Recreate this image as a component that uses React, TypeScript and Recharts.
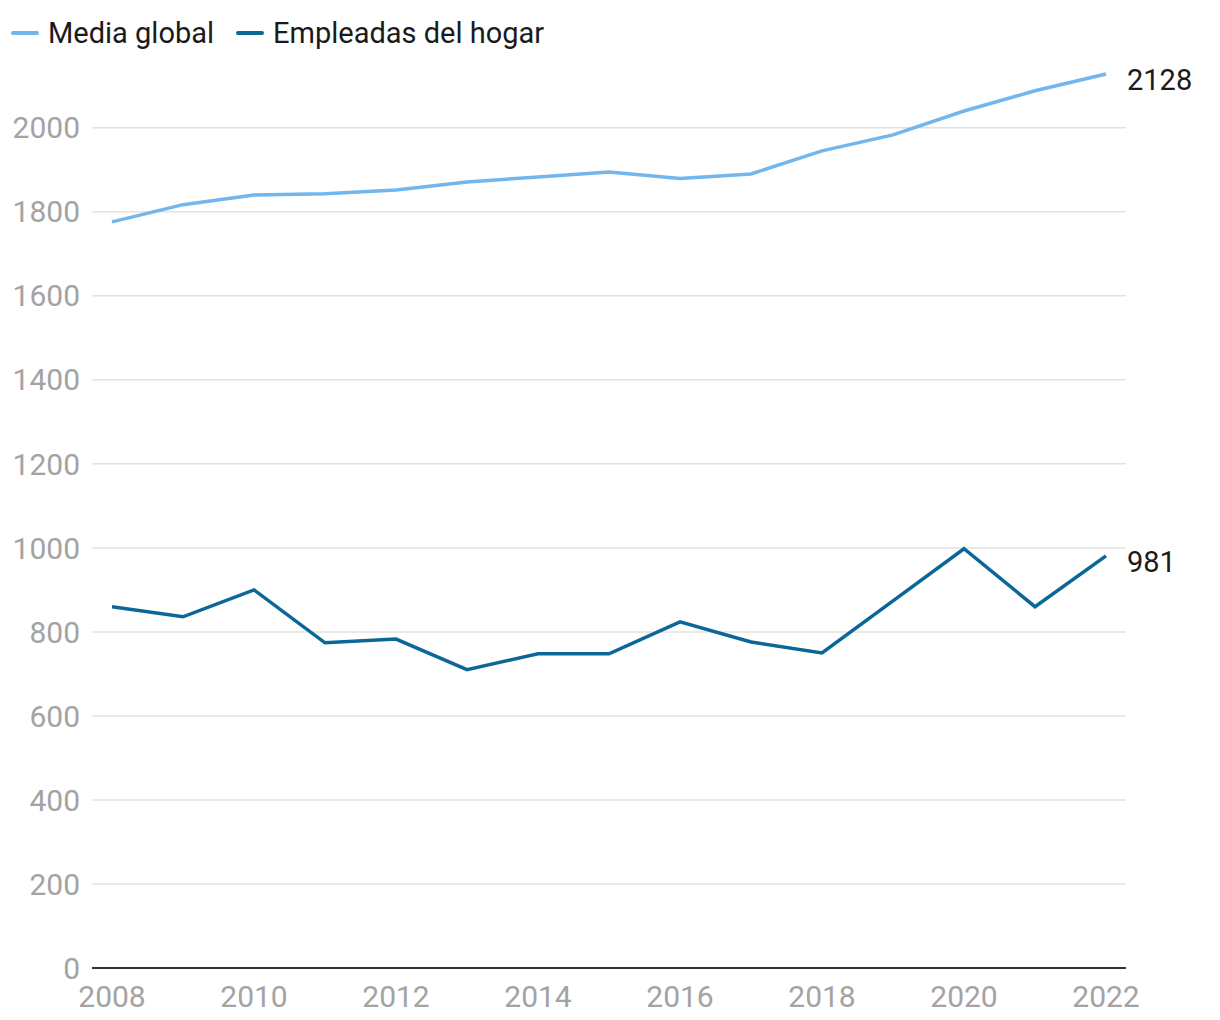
import { LineChart, Line, XAxis, YAxis, CartesianGrid } from "recharts";

const years = [2008, 2009, 2010, 2011, 2012, 2013, 2014, 2015, 2016, 2017, 2018, 2019, 2020, 2021, 2022];
const mediaGlobal = [1776, 1817, 1840, 1843, 1852, 1871, 1883, 1895, 1879, 1890, 1945, 1983, 2040, 2088, 2128];
const empleadas = [860, 836, 900, 774, 783, 710, 748, 748, 824, 776, 750, 874, 998, 860, 981];
const yTicks = [0, 200, 400, 600, 800, 1000, 1200, 1400, 1600, 1800, 2000];
const xTicks = [2008, 2010, 2012, 2014, 2016, 2018, 2020, 2022];

const LIGHT = "#72b6ee";
const DARK = "#0b6797";
const FONT = "Roboto, sans-serif";

const data = years.map((year, i) => ({
  year,
  media: mediaGlobal[i],
  empleadas: empleadas[i],
}));

function endLabel(len: number) {
  return (props: any) => {
    const { x, y, index, value } = props;
    if (index !== len - 1) return null;
    return (
      <text x={x + 21} y={y + 6} dominantBaseline="central" fontSize={29} fill="#1a1a1a" fontFamily={FONT}>
        {value}
      </text>
    );
  };
}

function LegendItem({ color, label }: { color: string; label: string }) {
  return (
    <div style={{ display: "flex", alignItems: "center", marginRight: 22 }}>
      <div style={{ width: 28, height: 4, borderRadius: 2, background: color, marginRight: 9 }} />
      <span style={{ fontSize: 29, color: "#1a1a1a", lineHeight: "34px" }}>{label}</span>
    </div>
  );
}

export default function App() {
  return (
    <div style={{ position: "absolute", left: 0, top: 0, width: 1220, height: 1020, background: "#fff", fontFamily: FONT }}>
      <div style={{ position: "absolute", left: 11, top: 16, display: "flex", zIndex: 2 }}>
        <LegendItem color={LIGHT} label="Media global" />
        <LegendItem color={DARK} label="Empleadas del hogar" />
      </div>
      <LineChart width={1220} height={1020} data={data} margin={{ top: 74, right: 94, bottom: 0, left: 0 }}>
        <CartesianGrid vertical={false} stroke="#e2e2e2" strokeWidth={1.5} horizontalValues={yTicks} />
        <XAxis
          dataKey="year"
          type="number"
          domain={[2008, 2022]}
          ticks={xTicks}
          padding={{ left: 20, right: 20 }}
          height={52}
          tickLine={false}
          tickMargin={12}
          axisLine={{ stroke: "#333", strokeWidth: 2 }}
          tick={{ fontSize: 30, fill: "#a3a3a3", fontFamily: FONT }}
        />
        <YAxis
          domain={[0, 2128]}
          ticks={yTicks}
          width={92}
          tickLine={false}
          axisLine={false}
          tickMargin={6}
          tick={{ fontSize: 30, fill: "#a3a3a3", fontFamily: FONT }}
        />
        <Line
          dataKey="media"
          stroke={LIGHT}
          strokeWidth={3.5}
          dot={false}
          isAnimationActive={false}
          label={endLabel(years.length)}
        />
        <Line
          dataKey="empleadas"
          stroke={DARK}
          strokeWidth={3.5}
          dot={false}
          isAnimationActive={false}
          label={endLabel(years.length)}
        />
      </LineChart>
    </div>
  );
}
